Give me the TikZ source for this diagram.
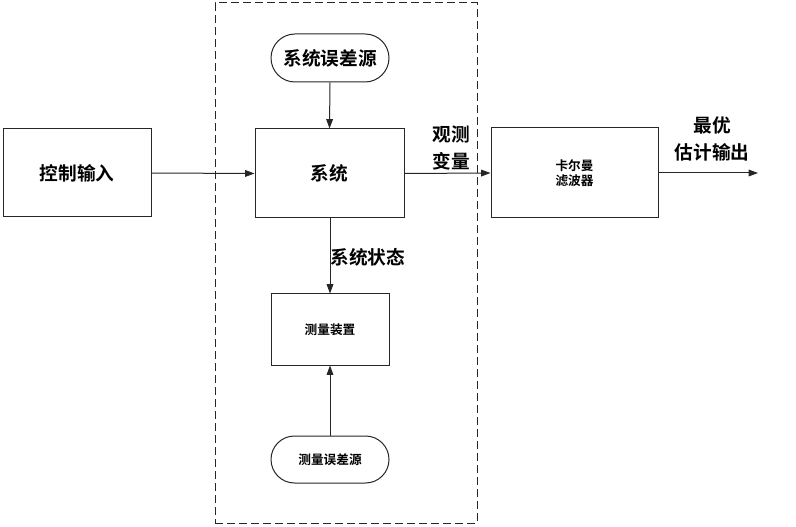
\documentclass[tikz,border=0pt]{standalone}
\usepackage{fontspec}
\newfontfamily\cjk{Noto Sans CJK SC}[BoldFont={Noto Sans CJK SC Bold}]
\usetikzlibrary{arrows.meta,shapes.misc}
\begin{document}
\begin{tikzpicture}[x=0.75pt,y=-0.75pt,
  line width=0.75pt,
  box/.style={draw=black!85, rectangle, inner sep=0pt, font=\cjk\bfseries\fontsize{14}{16}\selectfont},
  smallbox/.style={box, font=\cjk\bfseries\fontsize{9.5}{12}\selectfont, align=center},
  pill/.style={draw=black!85, rounded rectangle, inner sep=0pt},
  lbl/.style={font=\cjk\bfseries\fontsize{14}{20}\selectfont, align=center, inner sep=0pt},
  arr/.style={draw=black!85, -{Triangle[length=7pt,width=5pt]}}
]
\useasboundingbox (0,0) rectangle (796,527);
\node[draw=black!85, dash pattern=on 6pt off 3pt, minimum width=262*0.75pt, minimum height=520*0.75pt, inner sep=0pt] (frame) at (346,263) {};
\node[box, minimum width=148*0.75pt, minimum height=88*0.75pt] (ctrl) at (77,173) {控制输入};
\node[box, minimum width=149*0.75pt, minimum height=89*0.75pt] (sys) at (329.5,173.5) {系统};
\node[pill, minimum width=118*0.75pt, minimum height=48*0.75pt, font=\cjk\bfseries\fontsize{14}{16}\selectfont] (syserr) at (330,58) {系统误差源};
\node[smallbox, minimum width=118*0.75pt, minimum height=71*0.75pt] (meas) at (330,329.5) {测量装置};
\node[pill, minimum width=118*0.75pt, minimum height=47*0.75pt, font=\cjk\bfseries\fontsize{9.5}{12}\selectfont] (measerr) at (330,459.5) {测量误差源};
\node[smallbox, minimum width=167*0.75pt, minimum height=90*0.75pt] (kf) at (574.5,173) {卡尔曼\\[-1pt]滤波器};
\coordinate (out) at (758,173);
\draw[arr] (ctrl.east) -- (sys.west);
\draw[arr] (syserr.south) -- (sys.north);
\draw[arr] (sys.south -| meas.north) -- (meas.north);
\draw[arr] (measerr.north) -- (meas.south);
\draw[arr] (sys.east) -- (kf.west);
\draw[arr] (kf.east) -- (out);
\node[lbl, anchor=west] (lstate) at (330,257) {系统状态};
\node[lbl] (lobs) at (451,148) {观测\\变量};
\node[lbl] (lopt) at (712,139) {最优\\估计输出};
\end{tikzpicture}
\end{document}
